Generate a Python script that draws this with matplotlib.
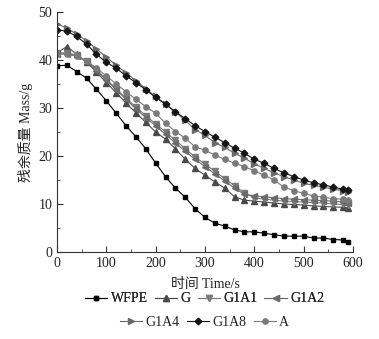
import matplotlib
matplotlib.use("Agg")
from matplotlib import pyplot as plt
from matplotlib.ticker import MultipleLocator

plt.rcParams['font.family'] = ['Liberation Serif', 'Noto Sans CJK SC']

time = [0, 20, 40, 60, 80, 100, 120, 140, 160, 180, 200, 220, 240, 260, 280, 300,
        320, 340, 360, 380, 400, 420, 440, 460, 480, 500, 520, 540, 560, 580, 590]

wfpe = [38.8, 38.9, 37.6, 36.2, 33.9, 31.5, 28.9, 26.3, 24.0, 21.5, 18.5, 15.7, 13.3, 11.4, 9.0, 7.2,
        6.0, 5.4, 4.6, 4.2, 4.2, 3.9, 3.6, 3.3, 3.3, 3.3, 2.9, 2.9, 2.6, 2.5, 2.1]
g = [41.5, 42.8, 41.2, 39.5, 37.5, 35.3, 33.2, 31.0, 29.0, 27.0, 25.0, 23.5, 21.5, 19.3, 17.4, 16.0,
     14.6, 13.3, 11.5, 10.8, 10.6, 10.4, 10.2, 10.0, 9.9, 9.8, 9.6, 9.5, 9.4, 9.3, 9.2]
g1a1 = [41.5, 41.5, 41.0, 39.8, 38.0, 36.0, 34.0, 32.0, 30.2, 28.4, 26.7, 25.0, 23.3, 21.5, 19.8, 18.3,
        16.8, 15.3, 13.8, 12.3, 11.3, 11.0, 10.8, 10.6, 10.5, 10.4, 10.3, 10.2, 10.0, 9.9, 9.8]
g1a2 = [41.3, 41.3, 40.9, 39.6, 37.8, 35.8, 33.8, 31.8, 29.8, 28.0, 26.3, 24.5, 22.7, 21.0, 19.3, 17.8,
        16.3, 14.8, 13.3, 12.0, 11.7, 11.5, 11.3, 11.1, 11.0, 10.9, 10.8, 10.7, 10.6, 10.4, 10.3]
g1a4 = [47.6, 46.6, 45.4, 44.0, 42.3, 40.6, 38.9, 37.3, 35.7, 34.0, 32.4, 30.8, 29.2, 27.4, 25.5, 24.3,
        22.8, 21.8, 20.6, 19.5, 18.4, 17.4, 16.5, 15.7, 15.0, 14.3, 13.9, 13.5, 13.1, 12.8, 12.5]
g1a8 = [46.3, 46.0, 44.9, 43.3, 41.2, 39.5, 38.3, 36.7, 35.3, 33.8, 32.2, 30.8, 29.2, 27.8, 26.3, 25.1,
        23.9, 22.8, 21.6, 20.6, 19.3, 18.5, 17.4, 16.5, 15.7, 15.0, 14.4, 14.0, 13.5, 13.1, 12.9]
a = [41.3, 41.2, 40.8, 39.8, 38.3, 36.7, 35.0, 33.4, 31.8, 30.3, 28.9, 26.8, 25.1, 23.7, 21.9, 21.2,
     20.2, 19.3, 18.5, 17.8, 16.9, 16.0, 15.0, 13.5, 12.8, 12.2, 11.7, 11.4, 11.1, 11.0, 10.8]

names = ["WFPE", "G", "G1A1", "G1A2", "G1A4", "G1A8", "A"]
series = [wfpe, g, g1a1, g1a2, g1a4, g1a8, a]
markers = ["s", "^", "v", "<", ">", "D", "o"]
colors = ["#000000", "#4a4a4a", "#7a7a7a", "#6a6a6a", "#6a6a6a", "#151515", "#7a7a7a"]
msizes = [3.0, 4.0, 4.0, 4.0, 4.0, 3.4, 3.8]

fig = plt.figure(figsize=(3.79, 3.39), dpi=100)
ax = fig.add_axes([57/379, 1-252/339, 296/379, 240/339])

handles = []
for y, nm, mk, c, ms in zip(series, names, markers, colors, msizes):
    h, = ax.plot(time, y, marker=mk, color=c, markersize=ms, linewidth=0.8, label=nm)
    handles.append(h)

ax.set_xlim(0, 600)
ax.set_ylim(0, 50)
ax.xaxis.set_major_locator(MultipleLocator(100))
ax.xaxis.set_minor_locator(MultipleLocator(50))
ax.yaxis.set_major_locator(MultipleLocator(10))
ax.yaxis.set_minor_locator(MultipleLocator(5))
ax.tick_params(which="both", direction="in", labelsize=10, color="#333333", labelcolor="#222222")
ax.tick_params(which="major", length=4)
ax.tick_params(which="minor", length=2.5)
ax.spines["top"].set_visible(False)
ax.spines["right"].set_visible(False)
ax.spines["left"].set_color("#333333")
ax.spines["bottom"].set_color("#333333")

ax.set_xlabel("时间 Time/s", fontsize=10, labelpad=6, color="#222222")
ax.set_ylabel("残余质量 Mass/g", fontsize=10, labelpad=4, color="#222222")

# legend in two centred rows
leg1 = fig.legend(handles[:4], names[:4], ncol=4, loc="center", bbox_to_anchor=(0.54, 1-299/339),
                  frameon=False, fontsize=10, handlelength=1.6, handletextpad=0.25, columnspacing=0.5,
                  borderpad=0, borderaxespad=0, labelcolor="#222222")
fig.add_artist(leg1)
fig.legend(handles[4:], names[4:], ncol=3, loc="center", bbox_to_anchor=(0.54, 1-322/339),
           frameon=False, fontsize=10, handlelength=1.6, handletextpad=0.25, columnspacing=0.5,
           borderpad=0, borderaxespad=0, labelcolor="#222222")

fig.savefig("out.png", dpi=100)
